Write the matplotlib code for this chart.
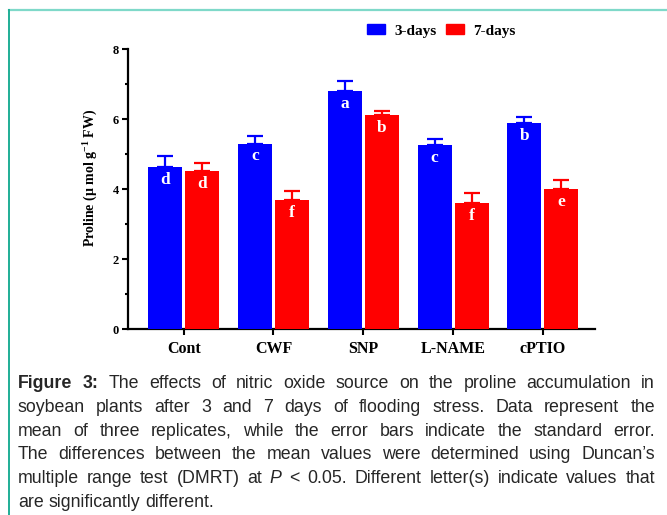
import matplotlib
matplotlib.use('Agg')
import matplotlib.pyplot as plt
import numpy as np
from matplotlib.lines import Line2D
from matplotlib.patches import Patch

plt.rcParams['font.family'] = 'Liberation Serif'
plt.rcParams['font.weight'] = 'bold'
plt.rcParams['mathtext.fontset'] = 'custom'
plt.rcParams['mathtext.rm'] = 'Liberation Serif:bold'
plt.rcParams['mathtext.bf'] = 'Liberation Serif:bold'

groups = ['Cont', 'CWF', 'SNP', 'L-NAME', 'cPTIO']
day3 = [4.62, 5.30, 6.79, 5.25, 5.89]
day3_se = [0.33, 0.21, 0.30, 0.18, 0.16]
day7 = [4.51, 3.68, 6.11, 3.59, 3.99]
day7_se = [0.23, 0.26, 0.13, 0.30, 0.26]
letters3 = ['d', 'c', 'a', 'c', 'b']
letters7 = ['d', 'f', 'b', 'f', 'e']

caption = [
    "Figure 3: The effects of nitric oxide source on the proline accumulation in",
    "soybean plants after 3 and 7 days of flooding stress. Data represent the",
    "mean of three replicates, while the error bars indicate the standard error.",
    "The differences between the mean values were determined using Duncan\u2019s",
    "multiple range test (DMRT) at P < 0.05. Different letter(s) indicate values that",
    "are significantly different.",
]

blue = '#0000ff'
red = '#ff0000'
W, H = 667, 515

fig = plt.figure(figsize=(W / 100, H / 100), dpi=100)
ax = fig.add_axes([128 / W, 186 / H, 467 / W, 280 / H])

x = np.arange(len(groups))
bw = 0.378
off = 0.206
ax.bar(x - off, day3, bw, color=blue, zorder=3)
ax.bar(x + off, day7, bw, color=red, zorder=3)
ax.errorbar(x - off, day3, yerr=[np.zeros(len(x)), day3_se], fmt='none',
            ecolor=blue, elinewidth=1.6, capsize=6, capthick=1.6, zorder=2)
ax.errorbar(x + off, day7, yerr=[np.zeros(len(x)), day7_se], fmt='none',
            ecolor=red, elinewidth=1.6, capsize=6, capthick=1.6, zorder=2)

for i in range(len(groups)):
    ax.text(x[i] - off, day3[i] - 0.48, letters3[i], color='white', fontsize=12.5,
            fontweight='bold', ha='center', va='baseline', zorder=4)
    ax.text(x[i] + off, day7[i] - 0.48, letters7[i], color='white', fontsize=12.5,
            fontweight='bold', ha='center', va='baseline', zorder=4)

ax.set_xlim(-0.62, 4.58)
ax.set_ylim(0, 8)
ax.set_yticks([0, 2, 4, 6, 8])
ax.set_yticks([1, 3, 5, 7], minor=True)
ax.set_xticks(x)
ax.set_xticklabels(groups, fontsize=11.5, fontweight='bold')
for lab in ax.get_yticklabels():
    lab.set_fontsize(9)
    lab.set_fontweight('bold')
ax.tick_params(axis='y', which='major', length=4.5, width=1.5, pad=2)
ax.tick_params(axis='y', which='minor', length=2.5, width=1.5)
ax.tick_params(axis='x', length=4.5, width=1.5, pad=4)
for s in ['top', 'right']:
    ax.spines[s].set_visible(False)
for s in ['left', 'bottom']:
    ax.spines[s].set_linewidth(1.6)

ax.set_ylabel('Proline (\u00b5 mol g$^{-1}$ FW)', fontsize=10, fontweight='bold')
ax.yaxis.set_label_coords(-0.062, 0.54)

handles = [Patch(color=blue), Patch(color=red)]
fig.legend(handles, ['3-days', '7-days'], loc='center left',
           bbox_to_anchor=(367 / W, 1 - 31 / H), ncol=2, frameon=False,
           prop={'family': 'Liberation Serif', 'weight': 'bold', 'size': 11},
           handlelength=1.2, handleheight=0.6, handletextpad=0.6,
           columnspacing=0.6, borderpad=0, borderaxespad=0)

# frame of the figure panel
fig.add_artist(Line2D([9 / W, 1], [1 - 10 / H, 1 - 10 / H], color='#7fd9c9',
                      lw=1.6, transform=fig.transFigure))
fig.add_artist(Line2D([9 / W, 9 / W], [0, 1 - 10 / H], color='#1fae96',
                      lw=1.4, transform=fig.transFigure))

# justified caption
fig.canvas.draw()
r = fig.canvas.get_renderer()
x0, x1 = 18, 655
cap_fs = 12.8
for i, line in enumerate(caption):
    y = 1 - (388 + i * 23.8) / H
    words = line.split()
    texts = []
    for j, wd in enumerate(words):
        weight = 'bold' if (i == 0 and j < 2) else 'normal'
        style = 'italic' if wd == 'P' else 'normal'
        t = fig.text(0, y, wd, fontsize=cap_fs, fontweight=weight, fontstyle=style,
                     family='Liberation Sans', color='#262626', va='baseline')
        texts.append(t)
    widths = [t.get_window_extent(r).width for t in texts]
    if i == len(caption) - 1:
        gap = cap_fs * 100 / 72 * 0.278
    else:
        gap = (x1 - x0 - sum(widths)) / (len(words) - 1)
    xp = x0
    for t, wd in zip(texts, widths):
        t.set_x(xp / W)
        xp += wd + gap

fig.savefig('out.png', dpi=100)
